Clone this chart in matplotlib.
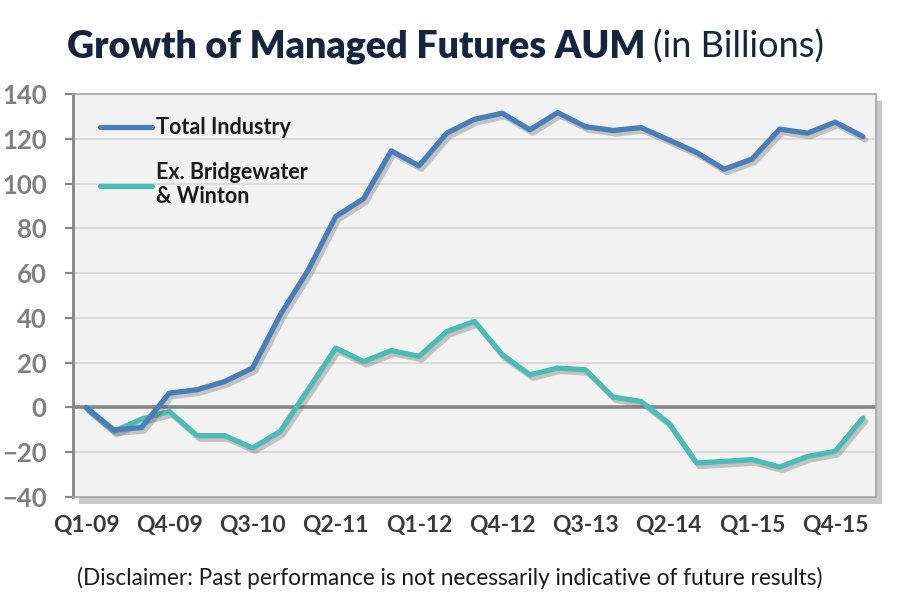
import numpy as np
import matplotlib
matplotlib.use("Agg")
from matplotlib import pyplot as plt
from matplotlib import patheffects as pe

# quarterly AUM change, Q1-09 .. Q1-16 (billions)
quarters = ["Q%d-%02d" % (q, y) for y in range(9, 17) for q in range(1, 5)][:29]
total_industry = [0, -10, -9, 6.4, 7.9, 11.6, 17.6, 41.4, 61.2, 85.3,
                  93.2, 114.6, 107.9, 122.5, 128.7, 131.4, 124, 131.7, 125.4, 123.7,
                  125, 119.5, 113.9, 106.4, 110.9, 124.3, 122.5, 127.4, 121]
ex_bw_winton = [0, -10.7, -5.2, -1.8, -12.6, -12.6, -18.1, -10.7, 7.9, 26.5,
                20.5, 25.4, 22.8, 33.9, 38.4, 23.5, 14.6, 17.6, 16.8, 4.6,
                2.7, -7, -24.8, -24.1, -23.3, -26.6, -21.9, -19.6, -4.7]
yticks = [-40, -20, 0, 20, 40, 60, 80, 100, 120, 140]

plt.rcParams['font.family'] = ['Lato', 'DejaVu Sans']

fig = plt.figure(figsize=(8.99, 6.02), dpi=100)
ax = fig.add_axes([0.0812, 0.1744, 0.8932, 0.6695])

x = np.arange(len(quarters))
shadow = [pe.SimpleLineShadow(offset=(2, -2.5), shadow_color='#555555', alpha=0.3), pe.Normal()]
ax.plot(x, total_industry, color='#4a7ebb', lw=3.8, label='Total Industry',
        solid_capstyle='round', path_effects=shadow, zorder=4)
ax.plot(x, ex_bw_winton, color='#4bbbb5', lw=3.8, label='Ex. Bridgewater\n& Winton',
        solid_capstyle='round', path_effects=shadow, zorder=3)

ax.set_xlim(-0.47, len(quarters) - 1 + 0.47)
ax.set_ylim(-40, 140)
ax.set_yticks(yticks)
ax.set_xticks(x[:-1:3])
ax.set_xticklabels(quarters[:-1:3])

ax.set_facecolor('#f2f2f2')
ax.patch.set_path_effects([pe.SimplePatchShadow(offset=(4, -5), shadow_rgbFace='#888888', alpha=0.45),
                           pe.Normal()])
ax.grid(axis='y', color='#d9d9d9', lw=1.3)
ax.set_axisbelow(True)
ax.axhline(0, color='#858585', lw=2.6, zorder=2)

for s in ['top', 'right', 'bottom']:
    ax.spines[s].set_color('#a6a6a6')
    ax.spines[s].set_linewidth(1.2)
ax.spines['left'].set_color('#858585')
ax.spines['left'].set_linewidth(2)

ax.tick_params(axis='y', length=6, width=1.5, color='#858585', pad=13,
               labelsize=18.5, labelcolor='#808080')
ax.tick_params(axis='x', length=0, pad=13, labelsize=16.5, labelcolor='#3a3a3a')
for lab in ax.get_yticklabels() + ax.get_xticklabels():
    lab.set_fontweight('bold')

leg = ax.legend(loc='upper left', bbox_to_anchor=(0.01, 0.99), frameon=False,
                handlelength=2.4, handletextpad=0.2, labelspacing=1.1,
                prop={'weight': 'bold', 'size': 15.5})
for t in leg.get_texts():
    t.set_color('#1a1a1a')
for h in leg.get_lines():
    h.set_path_effects([])

fig.text(0.718, 0.922, "Growth of Managed Futures AUM", ha='right', va='center',
         fontsize=27, fontweight='heavy', color='#15253f')
fig.text(0.726, 0.922, "(in Billions)", ha='left', va='center',
         fontsize=26, color='#15253f')
fig.text(0.5, 0.04, "(Disclaimer: Past performance is not necessarily indicative of future results)",
         ha='center', va='center', fontsize=16.3, color='#1a1a1a')

fig.savefig('out.png', dpi=100, facecolor='white')
plt.close()
